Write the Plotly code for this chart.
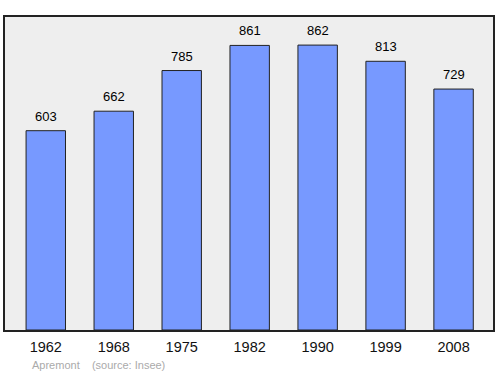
import plotly.graph_objects as go

years = ["1962", "1968", "1975", "1982", "1990", "1999", "2008"]
population = [603, 662, 785, 861, 862, 813, 729]
positions = list(range(len(years)))

fig = go.Figure()
fig.add_trace(go.Bar(
    x=positions, y=population,
    width=0.58,
    marker=dict(color="#7799ff", line=dict(color="#222222", width=1)),
))

for p, v in zip(positions, population):
    fig.add_annotation(
        x=p, y=v, xref="x", yref="y",
        text=str(v), showarrow=False,
        yanchor="bottom", yshift=5,
        font=dict(family="Liberation Sans, Arial", size=13, color="#000000"),
    )

fig.update_layout(
    width=500, height=374,
    margin=dict(l=5, r=5, t=17, b=44),
    paper_bgcolor="white",
    plot_bgcolor="#eeeeee",
    showlegend=False,
    font=dict(family="Liberation Sans, Arial", color="#000000"),
    xaxis=dict(
        range=[-0.6, 6.58],
        tickmode="array", tickvals=positions, ticktext=years,
        tickfont=dict(size=14.5, color="#111111"),
        showgrid=False, zeroline=False,
        showline=True, linecolor="#222222", linewidth=1.5, mirror=True,
        ticks="outside", ticklen=3, tickcolor="rgba(0,0,0,0)",
    ),
    yaxis=dict(
        range=[0, 947],
        showticklabels=False, showgrid=False, zeroline=False,
        showline=True, linecolor="#222222", linewidth=1.5, mirror=True,
        ticks="",
    ),
)

fig.add_annotation(
    x=0.052, y=-0.112, xref="paper", yref="paper",
    text="Apremont&nbsp;&nbsp;&nbsp;&nbsp;(source: Insee)",
    showarrow=False, xanchor="left", yanchor="middle",
    font=dict(size=11, color="#aaaaaa", family="Liberation Sans, Arial"),
)

fig.write_html("out.html")
